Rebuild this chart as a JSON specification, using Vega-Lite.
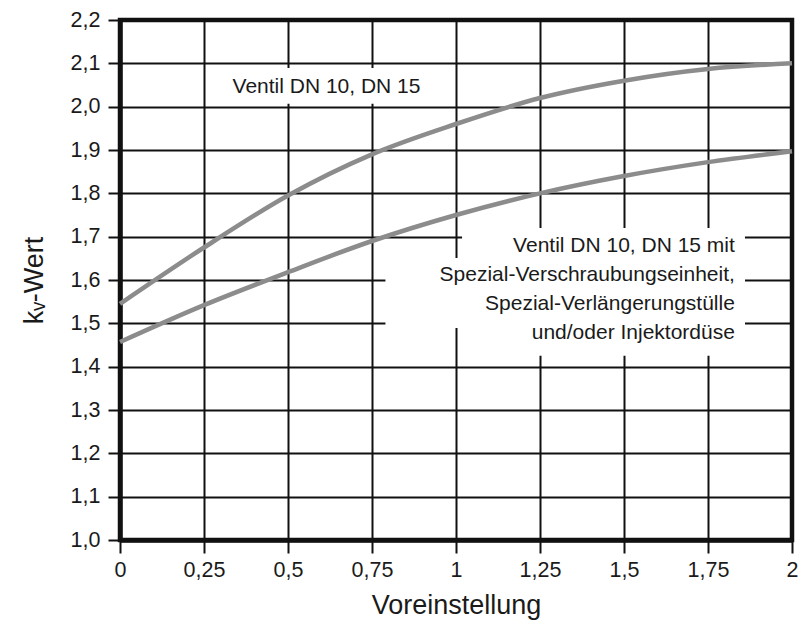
{
  "$schema": "https://vega.github.io/schema/vega-lite/v6.json",
  "width": 672,
  "height": 520,
  "autosize": {"type": "none"},
  "padding": {"left": 120, "top": 20, "right": 10, "bottom": 84},
  "background": "white",
  "config": {
    "view": {"stroke": "#111111", "strokeWidth": 4.5},
    "font": "Liberation Sans",
    "axis": {
      "domainColor": "#111111",
      "domainWidth": 4.5,
      "gridColor": "#111111",
      "gridWidth": 2,
      "gridOpacity": 1,
      "tickColor": "#111111",
      "tickWidth": 2,
      "labelFont": "Liberation Sans",
      "labelFontSize": 21.5,
      "labelColor": "#1a1a1a",
      "titleFont": "Liberation Sans",
      "titleFontSize": 27,
      "titleFontWeight": "normal",
      "titleColor": "#1a1a1a"
    }
  },
  "datasets": {
    "curves": [
      {"curve": "Ventil DN 10, DN 15", "x": 0, "y": 1.545},
      {"curve": "Ventil DN 10, DN 15", "x": 0.25, "y": 1.675},
      {"curve": "Ventil DN 10, DN 15", "x": 0.5, "y": 1.795},
      {"curve": "Ventil DN 10, DN 15", "x": 0.75, "y": 1.89},
      {"curve": "Ventil DN 10, DN 15", "x": 1, "y": 1.96},
      {"curve": "Ventil DN 10, DN 15", "x": 1.25, "y": 2.02},
      {"curve": "Ventil DN 10, DN 15", "x": 1.5, "y": 2.06},
      {"curve": "Ventil DN 10, DN 15", "x": 1.75, "y": 2.087},
      {"curve": "Ventil DN 10, DN 15", "x": 2, "y": 2.1},
      {"curve": "mit Spezial", "x": 0, "y": 1.457},
      {"curve": "mit Spezial", "x": 0.25, "y": 1.542},
      {"curve": "mit Spezial", "x": 0.5, "y": 1.618},
      {"curve": "mit Spezial", "x": 0.75, "y": 1.69},
      {"curve": "mit Spezial", "x": 1, "y": 1.75},
      {"curve": "mit Spezial", "x": 1.25, "y": 1.8},
      {"curve": "mit Spezial", "x": 1.5, "y": 1.84},
      {"curve": "mit Spezial", "x": 1.75, "y": 1.872},
      {"curve": "mit Spezial", "x": 2, "y": 1.897}
    ],
    "masks": [
      {"x0": 0.26, "x1": 0.95, "y0": 2.089, "y1": 2.007},
      {"x0": 0.79, "x1": 1.86, "y0": 1.651, "y1": 1.489},
      {"x0": 1.018, "x1": 1.86, "y0": 1.72, "y1": 1.425}
    ],
    "labels": [
      {"label": "a", "text": "Ventil DN 10, DN 15", "x": 0.6146, "y": 2.045},
      {"label": "b", "text": "Ventil DN 10, DN 15 mit\nSpezial-Verschraubungseinheit,\nSpezial-Verlängerungstülle\nund/oder Injektordüse", "x": 1.83, "y": 1.678}
    ]
  },
  "layer": [
    {
      "data": {"name": "masks"},
      "mark": {"type": "rect", "fill": "white"},
      "encoding": {
        "x": {
          "field": "x0", "type": "quantitative",
          "scale": {"domain": [0, 2], "nice": false, "zero": false},
          "axis": {
            "values": [0, 0.25, 0.5, 0.75, 1, 1.25, 1.5, 1.75, 2],
            "labelExpr": "replace(toString(datum.value), '.', ',')",
            "tickSize": 13,
            "labelPadding": 6,
            "title": "Voreinstellung",
            "titlePadding": 12,
            "labelFlush": false
          }
        },
        "x2": {"field": "x1"},
        "y": {
          "field": "y0", "type": "quantitative",
          "scale": {"domain": [1, 2.2], "nice": false, "zero": false},
          "axis": {
            "values": [1, 1.1, 1.2, 1.3, 1.4, 1.5, 1.6, 1.7, 1.8, 1.9, 2, 2.1, 2.2],
            "labelExpr": "replace(format(datum.value, '.1f'), '.', ',')",
            "tickSize": 12,
            "labelPadding": 8,
            "title": "kᵥ-Wert",
            "titlePadding": 22,
            "labelFlush": false
          }
        },
        "y2": {"field": "y1"}
      }
    },
    {
      "data": {"name": "curves"},
      "mark": {"type": "line", "interpolate": "monotone", "color": "#8c8c8c", "strokeWidth": 4.5},
      "encoding": {
        "x": {"field": "x", "type": "quantitative"},
        "y": {"field": "y", "type": "quantitative"},
        "detail": {"field": "curve", "type": "nominal"}
      }
    },
    {
      "data": {"name": "labels"},
      "transform": [{"filter": "datum.label == 'a'"}],
      "mark": {"type": "text", "fontSize": 21, "align": "center", "baseline": "middle", "color": "#1a1a1a", "font": "Liberation Sans"},
      "encoding": {
        "x": {"field": "x", "type": "quantitative"},
        "y": {"field": "y", "type": "quantitative"},
        "text": {"field": "text"}
      }
    },
    {
      "data": {"name": "labels"},
      "transform": [{"filter": "datum.label == 'b'"}],
      "mark": {"type": "text", "fontSize": 21, "align": "right", "baseline": "middle", "lineBreak": "\n", "lineHeight": 29, "color": "#1a1a1a", "font": "Liberation Sans"},
      "encoding": {
        "x": {"field": "x", "type": "quantitative"},
        "y": {"field": "y", "type": "quantitative"},
        "text": {"field": "text"}
      }
    }
  ]
}
